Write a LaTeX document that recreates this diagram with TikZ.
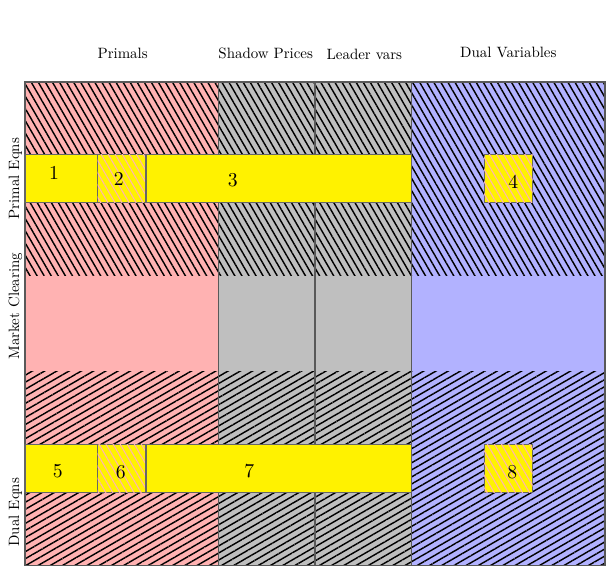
\documentclass[tikz,border=0pt]{standalone}
\usetikzlibrary{patterns.meta}
\begin{document}
\begin{tikzpicture}[
    cell/.style={draw=black!65, thin},
    upperhatch/.style={pattern={Lines[angle=-60,distance=1.8pt,line width=0.42pt]}, pattern color=black},
    lowerhatch/.style={pattern={Lines[angle=30,distance=1.8pt,line width=0.42pt]}, pattern color=black},
    band/.style={fill=yellow, draw=black!60, thin},
    pinkhatch/.style={postaction={pattern={Lines[angle=-60,distance=1.8pt,line width=0.3pt]}, pattern color=red!30}},
    head/.style={scale=0.44, inner sep=0pt},
    side/.style={scale=0.44, rotate=90, inner sep=0pt},
    num/.style={scale=0.58, inner sep=0pt}]
    \useasboundingbox (-0.259,-0.01) rectangle (6.01,5.848);
    % column fills
    \fill[red!30] (0,0) rectangle (2,5);
    \fill[lightgray] (2,0) rectangle (4,5);
    \fill[blue!30] (4,0) rectangle (6,5);
    % hatched rows
    \path[upperhatch] (0,3) rectangle (6,5);
    \path[lowerhatch] (0,0) rectangle (6,2);
    \foreach \a/\b in {0/2,2/3,3/4,4/6}
        \draw[cell] (\a,0) rectangle (\b,5);
    % yellow bands
    \foreach \y in {3.75,0.75}{
        \draw[band] (0,\y) rectangle (0.75,\y+0.5);
        \draw[band, pinkhatch] (0.75,\y) rectangle (1.25,\y+0.5);
        \draw[band] (1.25,\y) rectangle (4,\y+0.5);
        \draw[band, pinkhatch] (4.75,\y) rectangle (5.25,\y+0.5);
    }
    \node[num] (n1) at (0.30,4.06) {1};
    \node[num] (n2) at (0.97,4.00) {2};
    \node[num] (n3) at (2.15,3.98) {3};
    \node[num] (n4) at (5.05,3.97) {4};
    \node[num] (n5) at (0.34,0.97) {5};
    \node[num] (n6) at (0.99,0.96) {6};
    \node[num] (n7) at (2.32,0.98) {7};
    \node[num] (n8) at (5.04,0.96) {8};
    % headers
    \node[head] (primals) at (1.01,5.30) {Primals};
    \node[head] (shadow) at (2.49,5.30) {Shadow Prices};
    \node[head] (leader) at (3.51,5.28) {Leader vars};
    \node[head] (duals) at (5.00,5.30) {Dual Variables};
    \node[side] (primeqns) at (-0.10,4.00) {Primal Eqns};
    \node[side] (market) at (-0.10,2.68) {Market Clearing};
    \node[side] (dualeqns) at (-0.10,0.55) {Dual Eqns};
\end{tikzpicture}
\end{document}
